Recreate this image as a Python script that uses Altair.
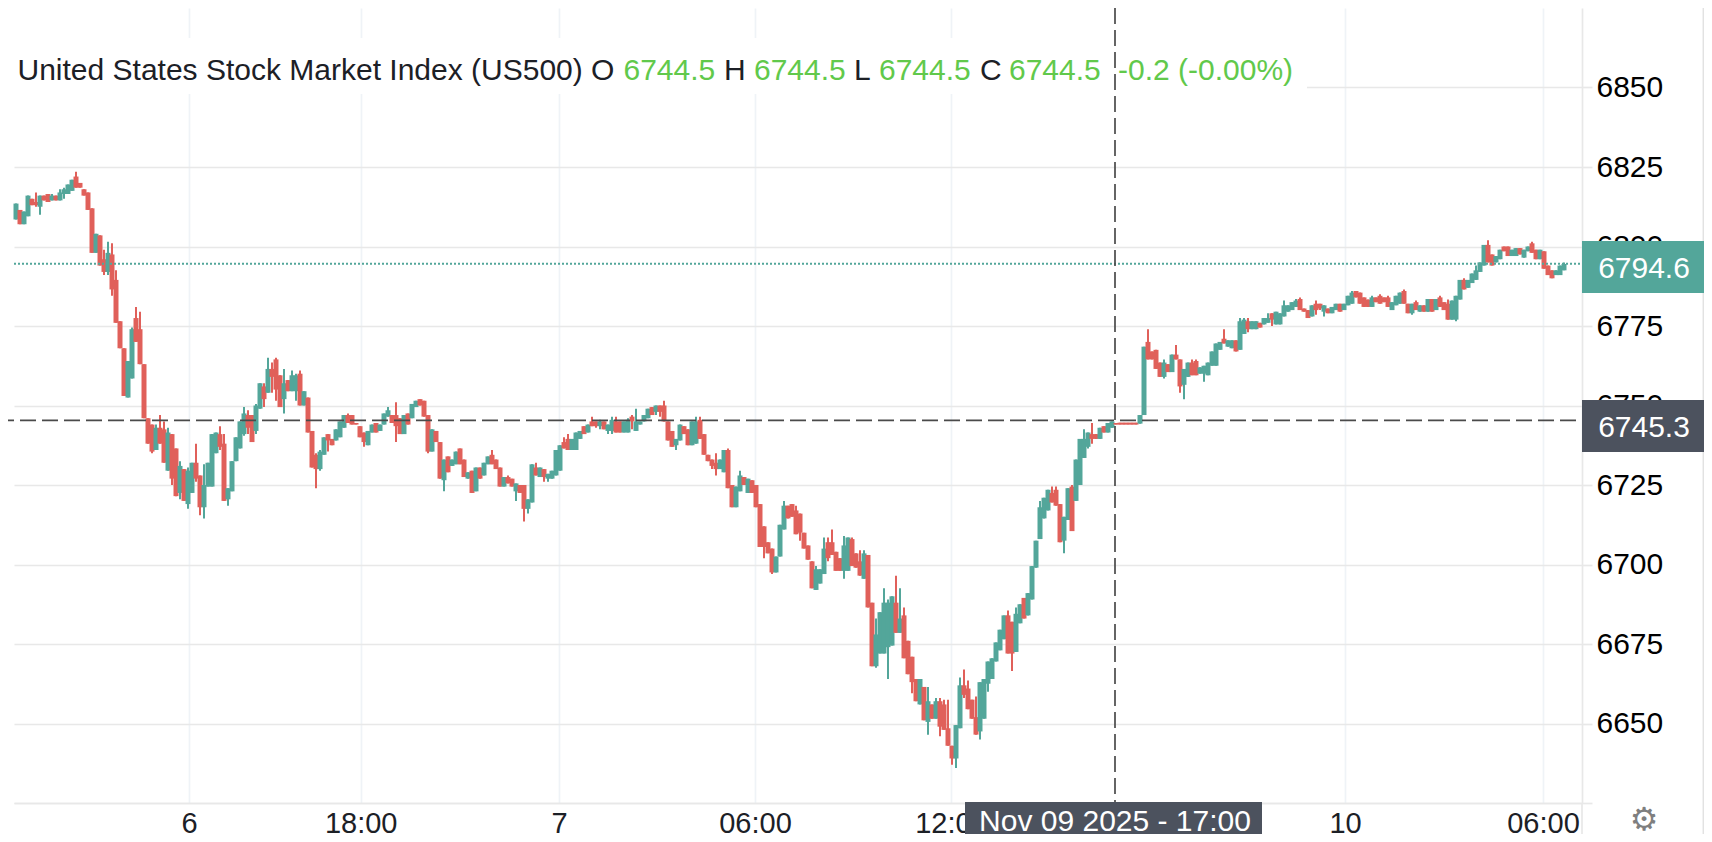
import json
import altair as alt
import pandas as pd

# Open / close of each candle
opens = [
6808.5,6811.5,6807,6809.5,6815,6814,6812.5,6816,6816.5,6814.5,6816,6814.5,6816.5,6816.5,6817.5,6822,6820,6818,6817,6812,
6798,6803.5,6796,6792,6797.5,6789.5,6776.5,6768,6752.5,6758.5,6777.5,6774,6763,6746,6744,6736,6743,6742.5,6729.5,6741,
6736.5,6722.5,6730,6719,6722.5,6732,6728,6718,6724.5,6724.5,6735,6741,6738,6720.5,6723,6732.5,6736.5,6741,6747,6747,
6742,6749,6756,6754,6761.5,
6764.5,6759.5,6752,6758,6754.5,6754.5,6760,6750,6752.5,6742,6734.5,6730,6734.5,6741,6739.5,6739,6740,6743,6747,6747,
6744.5,6743.5,6741.5,6737.5,6741.5,6744.5,6742,6744,6746.5,6747,6747,6746,6741,6747.5,6746,6749.5,6752,6751.5,6747,
6735.5,6742,6738.5,6726.5,6734,6731,6731.5,6736.5,6733,6727,6729.5,6723,6730.5,6728,6731.5,6734.5,6733,6730.5,6724.5,
6727.5,6727,6723,6725,6725,6717.5,6719.5,
6730.5,6727.5,6730,6727,6727,6728,6729.5,6738.5,6739.5,6736,6736,6739.5,6743.5,6741.5,6745,6745,6743.5,6745,6742,6742,
6745,6745,6741.5,6741.5,6746.5,6742,6744,6745,6746,6749.5,6748,6750,6750,6745,6742,6737.5,6739,6743.5,6742.5,6737.5,
6738,6745.5,6741,6734.5,6733,6732,6730,6729,6736,6725,6718,6723,6727.5,6722.5,6726.5,6725,6719,6712,6707,6705,6697.5,
6702.5,6711,6718.5,6719,
6717,6716,6710,6706,6701,6692,6694,6697,6707,6707,6704,6702,6698,6698,6708,6703.5,6701,6695.5,6703,6688,6668,6672,6672,
6674,6674.5,6688,6678.5,6684,6676,6671,6664,6656,6661.5,6650.5,6656,6651.5,6657,6656,6648.5,6643,6639,6648.5,6662,6661,
6657.5,6652,6647.5,6651.5,6662.5,6664,6669.5,6673,6676.5,6684,6682,6672.5,6681.5,6689.5,6684,6689,6699,6708,6714.5,
6717,6722.5,
6723.5,6719,6707.5,6714,6724.5,6720,6725,6733.5,6737,6741,6741,6739.5,6743.5,6741.5,6743,6744.5,6744.6,6744.6,6744.6,
6744.6,6744.6,6744.3,6747,6770,6767,6767.5,6763.5,6759,6763,6760.5,6766,6764.5,6756.5,6759,6763.5,6764,6760,6760,6759.5,
6762.5,6762.5,6767.5,6771,6768.5,6768,6770.5,6767.5,6772.5,6776.5,6774,6774,6776,6775.5,6776,6779,6775.5,6775.5,6778,
6779.5,6780,6781,6783.5,6780.5,6780,6778,
6782,6782,6779.5,6780.5,6779,6780,6782,6780,6781.5,6782,6786,6785.5,6784,6783.3,6781,6784,6784.5,6784,6784,6780,6781.5,
6782,6786,6782,6779,6782.5,6779.5,6781.5,6779.5,6783.5,6780,6784,6782.5,6782,6777,6777,6783.3,6789.5,6787,6788.5,6789.5,
6792,6794,6800.5,6797.5,6795,6796,6800,6800,6797,6797,6799.5,6796.5,6798.5,6801,6799,6796,6798.5,6794,6792.5,6791,6791,
6792.5,
]
closes = [
6813.5,6807,6811,6816,6813,6813,6816,6814.5,6814,6816,6814.5,6817,6818,6819.5,6821,6818.5,6818.5,6816,6811.5,6798,
6804,6794,6792,6798,6786.5,6776,6768,6753,6764,6774,6770,6763,6746,6738,6735.5,6743,6738,6732,6741.5,6727,
6721.5,6731,6720,6729.5,6732,6727,6718,6725,6732,6741,6741.5,6737,6720,6724,6732.5,6740,6745,6747.5,6743,6738.5,
6750,6757,6752,6761.5,6759,
6755,6749.5,6757,6754.5,6759.5,6759.5,6750,6754.5,6741.5,6730.5,6730,6735.5,6740,6739,6737.5,6742.5,6745,6747,6744.5,6744,
6744,6740,6738.5,6742,6744,6741.5,6744,6747.5,6748.5,6744.5,6743.5,6741,6747,6744,6750.5,6751.5,6750,6746.5,6735.5,
6742.5,6738.5,6727,6733,6729,6733,6735.5,6731.5,6727.5,6729,6722.5,6730.5,6727,6732,6734,6731.5,6730,6724.5,6727.5,
6725.5,6724.5,6725.5,6722.5,6717.5,6720.5,6731.5,
6728,6730.5,6727.5,6728.5,6729.5,6736,6737.5,6736.5,6736,6739.5,6741.5,6742,6741,6744,6743.5,6743.5,6745,6742.5,6744,6745.5,
6741.5,6741.5,6745,6745.5,6745,6745,6745,6747,6749,6747,6750,6748,6745,6739,6737,6739.5,6744,6741,6737.5,6745,
6745,6739.5,6734.5,6732.5,6731,6730,6733,6736,6724,6718,6724.5,6728,6725,6727,6722.5,6718,6705.5,6705.5,6703.5,6697.5,
6702.5,6712.5,6718.5,6714.5,6715,
6709.5,6710,6705,6701.5,6692.5,6698.5,6698.5,6705,6702,6703,6698,6698,6706,6708.5,6699.5,6699,6696.5,6703.5,6686.5,6668,
6678,6685,6688,6688,6690,6678.5,6683,6670.5,6665.5,6663,6657,6664,6651,6657,6651.5,6657,6649,6648,6643,6639,6649.5,
6662,6659,6654.5,6651.5,6646.5,6663,6664,6669.5,6670.5,6675.5,6679.5,6684,6672,6672,6684.5,6687.5,6683,6691,6699.5,6707.5,
6718,6721,6723.5,6719.5,
6718.5,6707,6715,6724,6710.5,6733,6739.5,6739.5,6741.5,6739.5,6739.5,6743,6741.5,6744.5,6745,6744,6744,6744,6744,6744,
6744,6747,6768.5,6764.5,6764.5,6761.5,6759,6763.5,6760.5,6766,6764.5,6756,6761.5,6763.5,6759.5,6759.5,6762,6762.5,6763.5,
6767,6769.5,6770,6769.5,6770.5,6770.5,6767,6776.5,6777,6774,6776.5,6776.5,6774.5,6777.5,6777.5,6777,6779.5,6779,6781.5,
6781.5,6782.5,6783,6780,6779.5,6777.5,6781.5,
6780,6780.5,6781.5,6779,6781,6782,6779.5,6782,6784.5,6785.5,6784,6782,6781,6781,6784,6782.5,6782,6782.5,6781,6782.5,6784.5,
6785.5,6782,6779,6782,6780,6781.5,6779.5,6783.5,6779.5,6783.5,6781,6780,6777,6783,6784.5,6789.5,6786.5,6789.5,6791.5,6792.5,
6795,6800.5,6795,6794,6797,6799,6798.5,6797,6799,6799.5,6797.5,6799,6800,6798,6796,6799,6793,6791,6790,6792.5,6794,
6794.5,
]
# Wick ends that reach beyond the candle body, by candle number
high_wicks = {5:6817,9:6816.5,11:6818,12:6818.5,15:6823.5,22:6799,23:6801.5,24:6801,25:6792.5,29:6774.5,30:6781,31:6779.5,
35:6744,36:6747,37:6745,38:6743,41:6732.5,43:6730.5,45:6738,47:6731.5,51:6743.5,52:6741,57:6749.5,58:6748.5,60:6750.5,
62:6757,63:6765,64:6763.5,65:6765,67:6761.5,69:6761,70:6760,71:6761,75:6735,76:6736,83:6747.5,93:6749.5,95:6751,119:6736,
123:6728,130:6732,137:6740,138:6741,144:6746.5,146:6745.5,149:6746.5,150:6746.5,153:6746,154:6747,155:6749,162:6751.5,
170:6746.5,171:6746.5,175:6735,178:6736.5,181:6729.5,192:6720,195:6718.5,200:6699.5,202:6708.5,203:6708.5,204:6711,
207:6709,209:6708.5,211:6704.5,212:6704.5,215:6683,217:6692.5,218:6689,220:6696.5,221:6692.5,222:6686.5,228:6661.5,
230:6658,231:6658,232:6657.5,233:6657.5,236:6664.5,237:6667,238:6663.5,240:6658.5,248:6685.5,250:6686.5,256:6720,259:6724.5,
260:6724.5,264:6725,267:6742.5,269:6744.5,283:6774,287:6764.5,290:6769,294:6764.5,295:6764.5,302:6774,306:6777.5,307:6777.5,
308:6777.5,313:6779,317:6783,320:6783.5,321:6784,325:6783,334:6786,339:6784.5,341:6785,343:6784.5,347:6786.5,350:6783,
356:6784.5,358:6783.3,362:6790,365:6794,368:6802,379:6801.5,387:6795}
low_wicks = {5:6812.5,6:6810,12:6815,22:6791,23:6791,24:6784.5,34:6735,39:6725,41:6720.5,43:6717.5,45:6726,46:6715.5,47:6714.5,
51:6736,53:6718.5,57:6740.5,58:6741,60:6741,62:6749.5,64:6754,65:6751.5,67:6747.5,70:6751.5,75:6724,76:6729.5,78:6735.5,
87:6737,95:6738.5,103:6735,107:6723,125:6720,127:6713.5,128:6716,132:6726,133:6726,145:6743,146:6742.5,148:6741,149:6741,
154:6742.5,160:6747,161:6746.5,165:6736,174:6730,175:6728,187:6702,189:6697,196:6707.5,203:6701,207:6695.5,215:6667.5,
218:6664,224:6659.5,228:6646.5,231:6646,234:6637,235:6636,237:6658,241:6645,243:6660,249:6666.5,262:6703.5,268:6736.5,
269:6738,287:6758.5,291:6754,292:6752,297:6757.5,308:6773,314:6775,325:6778.5,326:6780,327:6778,349:6778.5,359:6777,360:6776.5}

price_ticks = [6625, 6650, 6675, 6700, 6725, 6750, 6775, 6800, 6825, 6850]
time_ticks = [43.75, 86.67, 136.25, 185.25, 234.25, 332.75, 382.25]
time_labels = ["6", "18:00", "7", "06:00", "12:00", "10", "06:00"]

last_price = 6794.6
cross_price = 6745.3
cross_candle = 275.25
cross_label = "Nov 09 2025 - 17:00"

TEAL, RED = "#53a69a", "#e0605a"
GREEN, INK, SLATE = "#61c94b", "#1c2026", "#4c525e"
GRID_H, GRID_V = "#e8e8e8", "#eff3f7"
FONT = "Liberation Sans"

n = len(opens)
rows = pd.DataFrame({
    "t": [i + 0.5 for i in range(n)],
    "open": opens,
    "close": closes,
    "high": [max(opens[i], closes[i], high_wicks.get(i, 0)) for i in range(n)],
    "low": [min(opens[i], closes[i], low_wicks.get(i, 99999)) for i in range(n)],
    "dir": ["up" if closes[i] >= opens[i] else "down" for i in range(n)],
})

xs = alt.Scale(domain=[0, 392], nice=False, zero=False)
ys = alt.Scale(domain=[6625, 6875], nice=False, zero=False)
cs = alt.Scale(domain=["up", "down"], range=[TEAL, RED])

label_expr = "%s[indexof(%s, datum.value)]" % (json.dumps(time_labels), json.dumps(time_ticks))
x_axis = alt.Axis(values=time_ticks, labelExpr=label_expr, title=None, grid=True, gridColor=GRID_V, gridWidth=1.7,
                  ticks=False, domain=True, domainColor=GRID_H, domainWidth=1.7, labelFont=FONT, labelFontSize=29,
                  labelColor=INK, labelPadding=6, labelOverlap=False, labelBound=False, labelFlush=False)
y_axis = alt.Axis(values=price_ticks, orient="right", labelExpr="datum.value == 6625 ? '' : datum.label", format="d",
                  title=None, grid=True, gridColor=GRID_H, gridWidth=1.7, tickColor=GRID_H, tickSize=10, tickWidth=1.7,
                  domain=True, domainColor=GRID_H, domainWidth=1.7, labelFont=FONT, labelFontSize=30,
                  labelColor="#000000", labelPadding=4, labelOverlap=False, labelBound=False, labelFlush=False)

blank = alt.Data(values=[{}])


def box(x, x2, y, y2, color):
    return alt.Chart(blank).mark_rect(color=color, clip=False).encode(
        x=alt.value(x), x2=alt.value(x2), y=alt.value(y), y2=alt.value(y2))


def label(text, x, y, color, size=30, align="left", font=FONT):
    return alt.Chart(blank).mark_text(font=font, fontSize=size, color=color, align=align,
                                      baseline="alphabetic", clip=False).encode(
        x=alt.value(x), y=alt.value(y), text=alt.value(text))


def line(x, x2, y, y2, color, width=1.7):
    return alt.Chart(blank).mark_rule(color=color, strokeWidth=width, clip=False).encode(
        x=alt.value(x), x2=alt.value(x2), y=alt.value(y), y2=alt.value(y2))


wicks = alt.Chart(rows).mark_rule(strokeWidth=2).encode(
    x=alt.X("t:Q", scale=xs, axis=x_axis),
    y=alt.Y("low:Q", scale=ys, axis=y_axis),
    y2="high:Q",
    color=alt.Color("dir:N", scale=cs, legend=None),
)
bodies = alt.Chart(rows).mark_rule(strokeWidth=5).encode(
    x=alt.X("t:Q", scale=xs),
    y=alt.Y("open:Q", scale=ys),
    y2="close:Q",
    color=alt.Color("dir:N", scale=cs, legend=None),
)

last_line = alt.Chart(pd.DataFrame({"p": [last_price]})).mark_rule(
    color=TEAL, strokeWidth=2, strokeDash=[2, 2]).encode(y=alt.Y("p:Q", scale=ys), x=alt.value(0), x2=alt.value(1568))
cross_h = alt.Chart(pd.DataFrame({"p": [cross_price]})).mark_rule(
    color="#4a4a4a", strokeWidth=1.7, strokeDash=[16, 6], strokeDashOffset=10, clip=False).encode(
    y=alt.Y("p:Q", scale=ys), x=alt.value(-6), x2=alt.value(1562))
cross_v = alt.Chart(pd.DataFrame({"t": [cross_candle]})).mark_rule(
    color="#4a4a4a", strokeWidth=1.7, strokeDash=[16, 6]).encode(
    x=alt.X("t:Q", scale=xs), y=alt.value(0), y2=alt.value(795))

BOTTOM = 826
chart = alt.layer(
    wicks, bodies,
    box(0, 1293, 30, 86, "#ffffff"),
    last_line, cross_h, cross_v,
    line(1568, 1568, 795, BOTTOM, GRID_H),
    line(1689.4, 1689.4, 0, BOTTOM, "#e2e2e2"),
    label("United States Stock Market Index (US500) O", 3.5, 71.5, INK),
    label("6744.5", 609.5, 71.5, GREEN),
    label("H", 710, 71.5, INK),
    label("6744.5", 740, 71.5, GREEN),
    label("L", 840, 71.5, INK),
    label("6744.5", 865, 71.5, GREEN),
    label("C", 966, 71.5, INK),
    label("6744.5", 995, 71.5, GREEN),
    label("-0.2 (-0.00%)", 1104, 71.5, GREEN),
    box(1568, 1690, 233, 285, TEAL),
    label("6794.6", 1630, 269.5, "#ffffff", align="center"),
    box(1568, 1690, 392, 444, SLATE),
    label("6745.3", 1630, 428.5, "#ffffff", align="center"),
    box(951, 1248, 794, BOTTOM, SLATE),
    label(cross_label, 1101, 823, "#ffffff", align="center"),
    label("\u2699", 1630, 822, "#7f7f7f", size=32, align="center", font="DejaVu Sans"),
).properties(
    width=1568, height=795,
    padding={"left": 6, "top": 0, "right": 122, "bottom": 31},
    autosize=alt.AutoSizeParams(type="none"),
    background="#ffffff",
).configure_view(stroke=None)

chart.save("out.html", embed_options={"renderer": "svg", "actions": False})
